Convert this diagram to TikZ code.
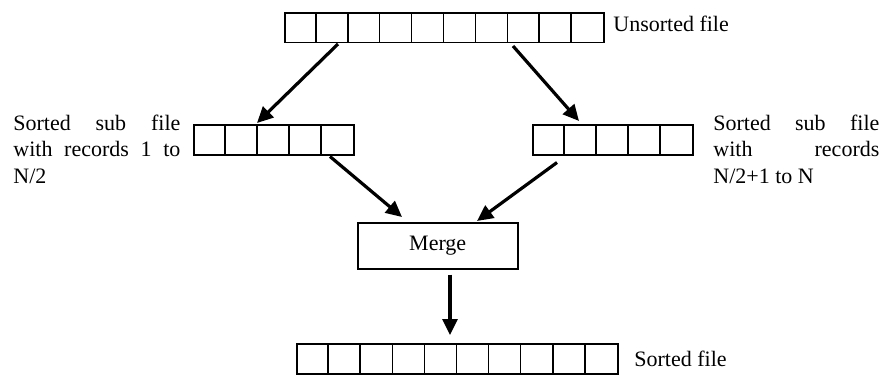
\documentclass[tikz,border=0pt]{standalone}
\usepackage{fontspec}
\setmainfont{Liberation Serif}
\usetikzlibrary{arrows.meta,calc}
\tikzset{
  arr/.style={line width=1.6pt,-{Triangle[length=8pt,width=7.5pt]}},
  cellrow/.style={draw,line width=0.75pt,inner sep=0pt,anchor=north west,minimum height=14.75pt},
  lbl/.style={inner sep=0pt,anchor=base west,font=\fontsize{11pt}{13.3pt}\selectfont},
  jline/.style={inner sep=0pt,anchor=base west,font=\fontsize{11pt}{13.3pt}\selectfont},
}
\begin{document}
\begin{tikzpicture}[x=0.5pt,y=-0.5pt]
\useasboundingbox (0,0) rectangle (884,375);
% arrays
\node[cellrow,minimum width=159.5pt] (top) at (284,12) {};
\foreach \i in {1,...,9} \draw[line width=0.75pt] ($(top.north west)+(\i*31.9,0)$) -- ($(top.south west)+(\i*31.9,0)$);
\node[cellrow,minimum width=80pt,minimum height=15pt] (left) at (193,124) {};
\foreach \i in {1,...,4} \draw[line width=0.75pt] ($(left.north west)+(\i*32,0)$) -- ($(left.south west)+(\i*32,0)$);
\node[cellrow,minimum width=80pt,minimum height=15pt] (right) at (532,124) {};
\foreach \i in {1,...,4} \draw[line width=0.75pt] ($(right.north west)+(\i*32,0)$) -- ($(right.south west)+(\i*32,0)$);
\node[cellrow,minimum width=160.5pt,minimum height=15pt] (bottom) at (296,343) {};
\foreach \i in {1,...,9} \draw[line width=0.75pt] ($(bottom.north west)+(\i*32.1,0)$) -- ($(bottom.south west)+(\i*32.1,0)$);
% merge box
\node[draw,line width=0.75pt,inner sep=0pt,minimum width=80pt,minimum height=23pt,anchor=north west,font=\fontsize{11pt}{13.3pt}\selectfont] (merge) at (357,222) {};
\node[inner sep=0pt,font=\fontsize{11pt}{13.3pt}\selectfont] (mergetxt) at (merge.center) {Merge};
% labels
\node[lbl] (unsorted) at (613,32) {Unsorted file};
\node[lbl] (sorted) at (634,366) {Sorted file};
\node[jline] (l1) at (13,130) {\makebox[83.5pt][s]{Sorted sub file}};
\node[jline] (l2) at (13,156.7) {\makebox[83.5pt][s]{with records 1 to}};
\node[jline] (l3) at (13,183.4) {N/2};
\node[jline] (r1) at (713,130) {\makebox[83pt][s]{Sorted sub file}};
\node[jline] (r2) at (713,156.7) {\makebox[83pt][s]{with records}};
\node[jline] (r3) at (713,183.4) {N/2+1 to N};
% arrows
\draw[arr] ($(top.south west)+(54,1)$) -- ($(left.north west)+(64,-1)$);
\draw[arr] ($(top.south west)+(229,3)$) -- ($(right.north west)+(47,-3)$);
\draw[arr] ($(left.south west)+(137,1)$) -- ($(merge.north west)+(45,-5)$);
\draw[arr] ($(right.south west)+(25,7)$) -- ($(merge.north west)+(120,-1)$);
\draw[arr] ($(merge.south west)+(93,5)$) -- ($(bottom.north west)+(154,-8)$);
\end{tikzpicture}
\end{document}
